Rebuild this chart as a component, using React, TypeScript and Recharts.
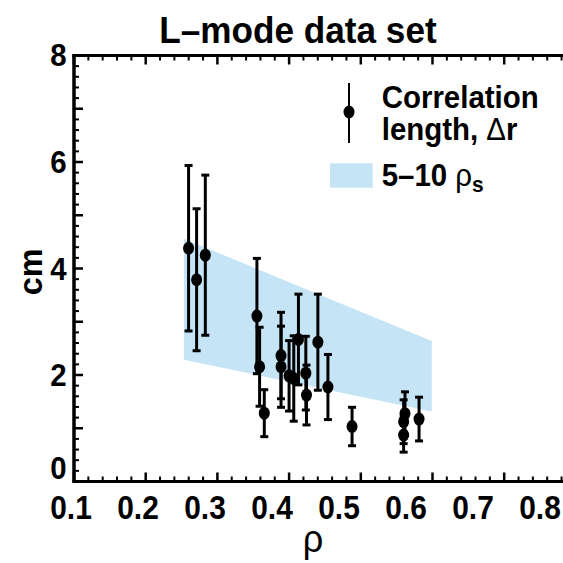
import React from 'react';
import { ComposedChart, Area, Scatter, ErrorBar, XAxis, YAxis, Legend } from 'recharts';

const FONT = "'Liberation Sans', Arial, Helvetica, sans-serif";
const BAND_COLOR = '#c5e4f5';

// ---- data ----
const rhoValues = [0.271, 0.283, 0.296, 0.373, 0.377, 0.384, 0.409, 0.409, 0.421, 0.428, 0.435, 0.446, 0.447, 0.464, 0.479, 0.515, 0.592, 0.594, 0.592, 0.615];
const corrLengthCm = [4.37, 3.78, 4.24, 3.10, 2.15, 1.28, 2.36, 2.15, 1.98, 1.93, 2.66, 2.03, 1.62, 2.61, 1.77, 1.03, 1.12, 1.27, 0.87, 1.17];
const corrLengthErr = [1.55, 1.33, 1.50, 1.08, 0.74, 0.44, 0.81, 0.76, 0.66, 0.80, 0.85, 0.69, 0.56, 0.90, 0.61, 0.36, 0.41, 0.41, 0.32, 0.41];
const bandRho = [0.264, 0.634];
const band5RhoS = [2.28, 1.31];
const band10RhoS = [4.55, 2.63];
const xTickLabels = [0.1, 0.2, 0.3, 0.4, 0.5, 0.6, 0.7, 0.8];
const yTickLabels = [0, 2, 4, 6, 8];

// frame tick marks (the printed frame's marks use a slightly wider spacing than its labels)
const xMarks = Array.from({ length: 38 }, (_, i) => +(0.1 + i * 0.02).toFixed(2));
const yMarks = Array.from({ length: 41 }, (_, i) => +(i * 0.2).toFixed(1));
const MARK_STRETCH = 717 / 670;
const X_DOMAIN: [number, number] = [0.1, 0.9];
const Y_DOMAIN: [number, number] = [0, 8];

// layout
const CHART_W = 620;
const CHART_H = 563;
const MARGIN = { top: 54.5, right: 10, bottom: 80.5, left: 73 };
const AXIS_SIZE = 1;
const PLOT_LEFT = MARGIN.left + AXIS_SIZE;
const PLOT_TOP = MARGIN.top + AXIS_SIZE;
const PLOT_W = CHART_W - MARGIN.right - PLOT_LEFT;
const PLOT_H = CHART_H - MARGIN.bottom - AXIS_SIZE - PLOT_TOP;
const PLOT_BOTTOM = PLOT_TOP + PLOT_H;

const isMult = (v: number, step: number) => Math.abs(v / step - Math.round(v / step)) < 1e-6;

const points = rhoValues.map((x, i) => ({ x, y: corrLengthCm[i], err: corrLengthErr[i] }));
const bandData = bandRho.map((x, i) => ({ x, band: [band5RhoS[i], band10RhoS[i]] }));

const SText = ({ x, y, size, weight = 'bold', anchor = 'middle', sx = 1, rotate = 0, children }: any) => (
  <text
    transform={`translate(${x},${y})${rotate ? ` rotate(${rotate})` : ''} scale(${sx},1)`}
    x={0}
    y={0}
    fontSize={size}
    fontWeight={weight}
    fontFamily={FONT}
    textAnchor={anchor}
    fill="#000"
  >
    {children}
  </text>
);

const XLabelTick = (props: any) => {
  const { x, y, payload } = props;
  return (
    <SText x={Number(x) - 3} y={Number(y) + 37.5} size={34} sx={0.88}>
      {Number(payload.value).toFixed(1)}
    </SText>
  );
};

const YLabelTick = (props: any) => {
  const { x, y, payload } = props;
  const n = Math.round(Number(payload.value));
  return (
    <SText x={Number(x) - 7.5} y={(n === 0 ? Number(y) - 14 : Number(y)) + 11.5} size={32} anchor="end" sx={0.92}>
      {n}
    </SText>
  );
};

const XTitle = () => <SText x={313} y={552} size={38} weight="normal" sx={0.95}>ρ</SText>;
const YTitle = () => <SText x={42} y={272} size={34} rotate={-90} sx={0.95}>cm</SText>;

const Dot = (props: any) => {
  const { cx, cy } = props;
  return <ellipse cx={cx} cy={cy} rx={5.5} ry={6.5} fill="#000" />;
};

const LegendBox = () => (
  <svg width={240} height={130} style={{ display: 'block' }}>
    <line x1={29} x2={29} y1={8} y2={68} stroke="#000" strokeWidth={2} />
    <ellipse cx={29} cy={37} rx={5.5} ry={6.5} fill="#000" />
    <SText x={61.7} y={33} size={31} anchor="start" sx={0.95}>Correlation</SText>
    <SText x={61.7} y={65} size={31} anchor="start" sx={0.95}>
      length, <tspan fontWeight="normal">Δ</tspan>r
    </SText>
    <rect x={10} y={88.3} width={42.7} height={24.4} fill={BAND_COLOR} />
    <SText x={61.7} y={111} size={31} anchor="start" sx={0.95}>
      5–10 <tspan fontWeight="normal">ρ</tspan>
      <tspan fontSize={22} dy={6}>s</tspan>
    </SText>
  </svg>
);

// frame: top border and inward tick marks on the top, bottom and left sides
const FrameOverlay = () => {
  const xPx = (v: number) => PLOT_LEFT + ((v - X_DOMAIN[0]) / (X_DOMAIN[1] - X_DOMAIN[0])) * PLOT_W * MARK_STRETCH;
  const yPx = (v: number) => PLOT_TOP + PLOT_H * (1 - (v - Y_DOMAIN[0]) / (Y_DOMAIN[1] - Y_DOMAIN[0]));
  return (
    <g>
      <line x1={PLOT_LEFT - 1.5} x2={PLOT_LEFT + PLOT_W} y1={PLOT_TOP} y2={PLOT_TOP} stroke="#000" strokeWidth={3} />
      <line x1={PLOT_LEFT - 1.5} x2={PLOT_LEFT + PLOT_W} y1={PLOT_BOTTOM} y2={PLOT_BOTTOM} stroke="#000" strokeWidth={3} />
      <line x1={PLOT_LEFT} x2={PLOT_LEFT} y1={PLOT_TOP - 1.5} y2={PLOT_BOTTOM + 1.5} stroke="#000" strokeWidth={3} />
      {xMarks.map((v) => {
        const major = isMult(v, 0.1);
        const len = major ? 9 : 5;
        const px = xPx(v);
        const sw = major ? 2.5 : 2;
        return (
          <g key={`x${v}`}>
            <line x1={px} x2={px} y1={PLOT_BOTTOM} y2={PLOT_BOTTOM - len} stroke="#000" strokeWidth={sw} />
            <line x1={px} x2={px} y1={PLOT_TOP} y2={PLOT_TOP + len} stroke="#000" strokeWidth={sw} />
          </g>
        );
      })}
      {yMarks.map((v) => {
        const major = isMult(v, 1);
        const py = yPx(v);
        return (
          <line key={`y${v}`} x1={PLOT_LEFT} x2={PLOT_LEFT + (major ? 9 : 5)} y1={py} y2={py} stroke="#000" strokeWidth={major ? 2.5 : 2} />
        );
      })}
    </g>
  );
};

export default function App() {
  return (
    <div style={{ position: 'absolute', left: 0, top: 0, width: 563, height: 563, overflow: 'hidden', background: '#fff' }}>
      <ComposedChart width={CHART_W} height={CHART_H} data={bandData} margin={MARGIN}>
        <XAxis
          xAxisId="main"
          type="number"
          dataKey="x"
          domain={X_DOMAIN}
          ticks={xTickLabels}
          interval={0}
          height={AXIS_SIZE}
          tickSize={0}
          tickMargin={0}
          tickLine={false}
          axisLine={{ stroke: '#000', strokeWidth: 3 }}
          tick={<XLabelTick />}
          label={<XTitle />}
        />
        <YAxis
          type="number"
          dataKey="y"
          domain={Y_DOMAIN}
          ticks={yTickLabels}
          interval={0}
          width={AXIS_SIZE}
          tickSize={0}
          tickMargin={0}
          tickLine={false}
          axisLine={{ stroke: '#000', strokeWidth: 3 }}
          tick={<YLabelTick />}
          label={<YTitle />}
        />
        <Area
          xAxisId="main"
          type="linear"
          dataKey="band"
          stroke="none"
          fill={BAND_COLOR}
          fillOpacity={1}
          isAnimationActive={false}
          dot={false}
          activeDot={false}
        />
        <Scatter xAxisId="main" data={points} dataKey="y" fill="#000" shape={<Dot />} isAnimationActive={false}>
          <ErrorBar dataKey="err" direction="y" width={4} strokeWidth={3} stroke="#000" isAnimationActive={false} />
        </Scatter>
        <Legend
          layout="vertical"
          align="center"
          verticalAlign="middle"
          wrapperStyle={{ left: 320, top: 75, width: 240, height: 130 }}
          content={() => <LegendBox />}
        />
      </ComposedChart>
      <svg width={563} height={563} style={{ position: 'absolute', left: 0, top: 0, pointerEvents: 'none' }}>
        <FrameOverlay />
        <SText x={298} y={43} size={37} sx={0.95}>L–mode data set</SText>
      </svg>
    </div>
  );
}
